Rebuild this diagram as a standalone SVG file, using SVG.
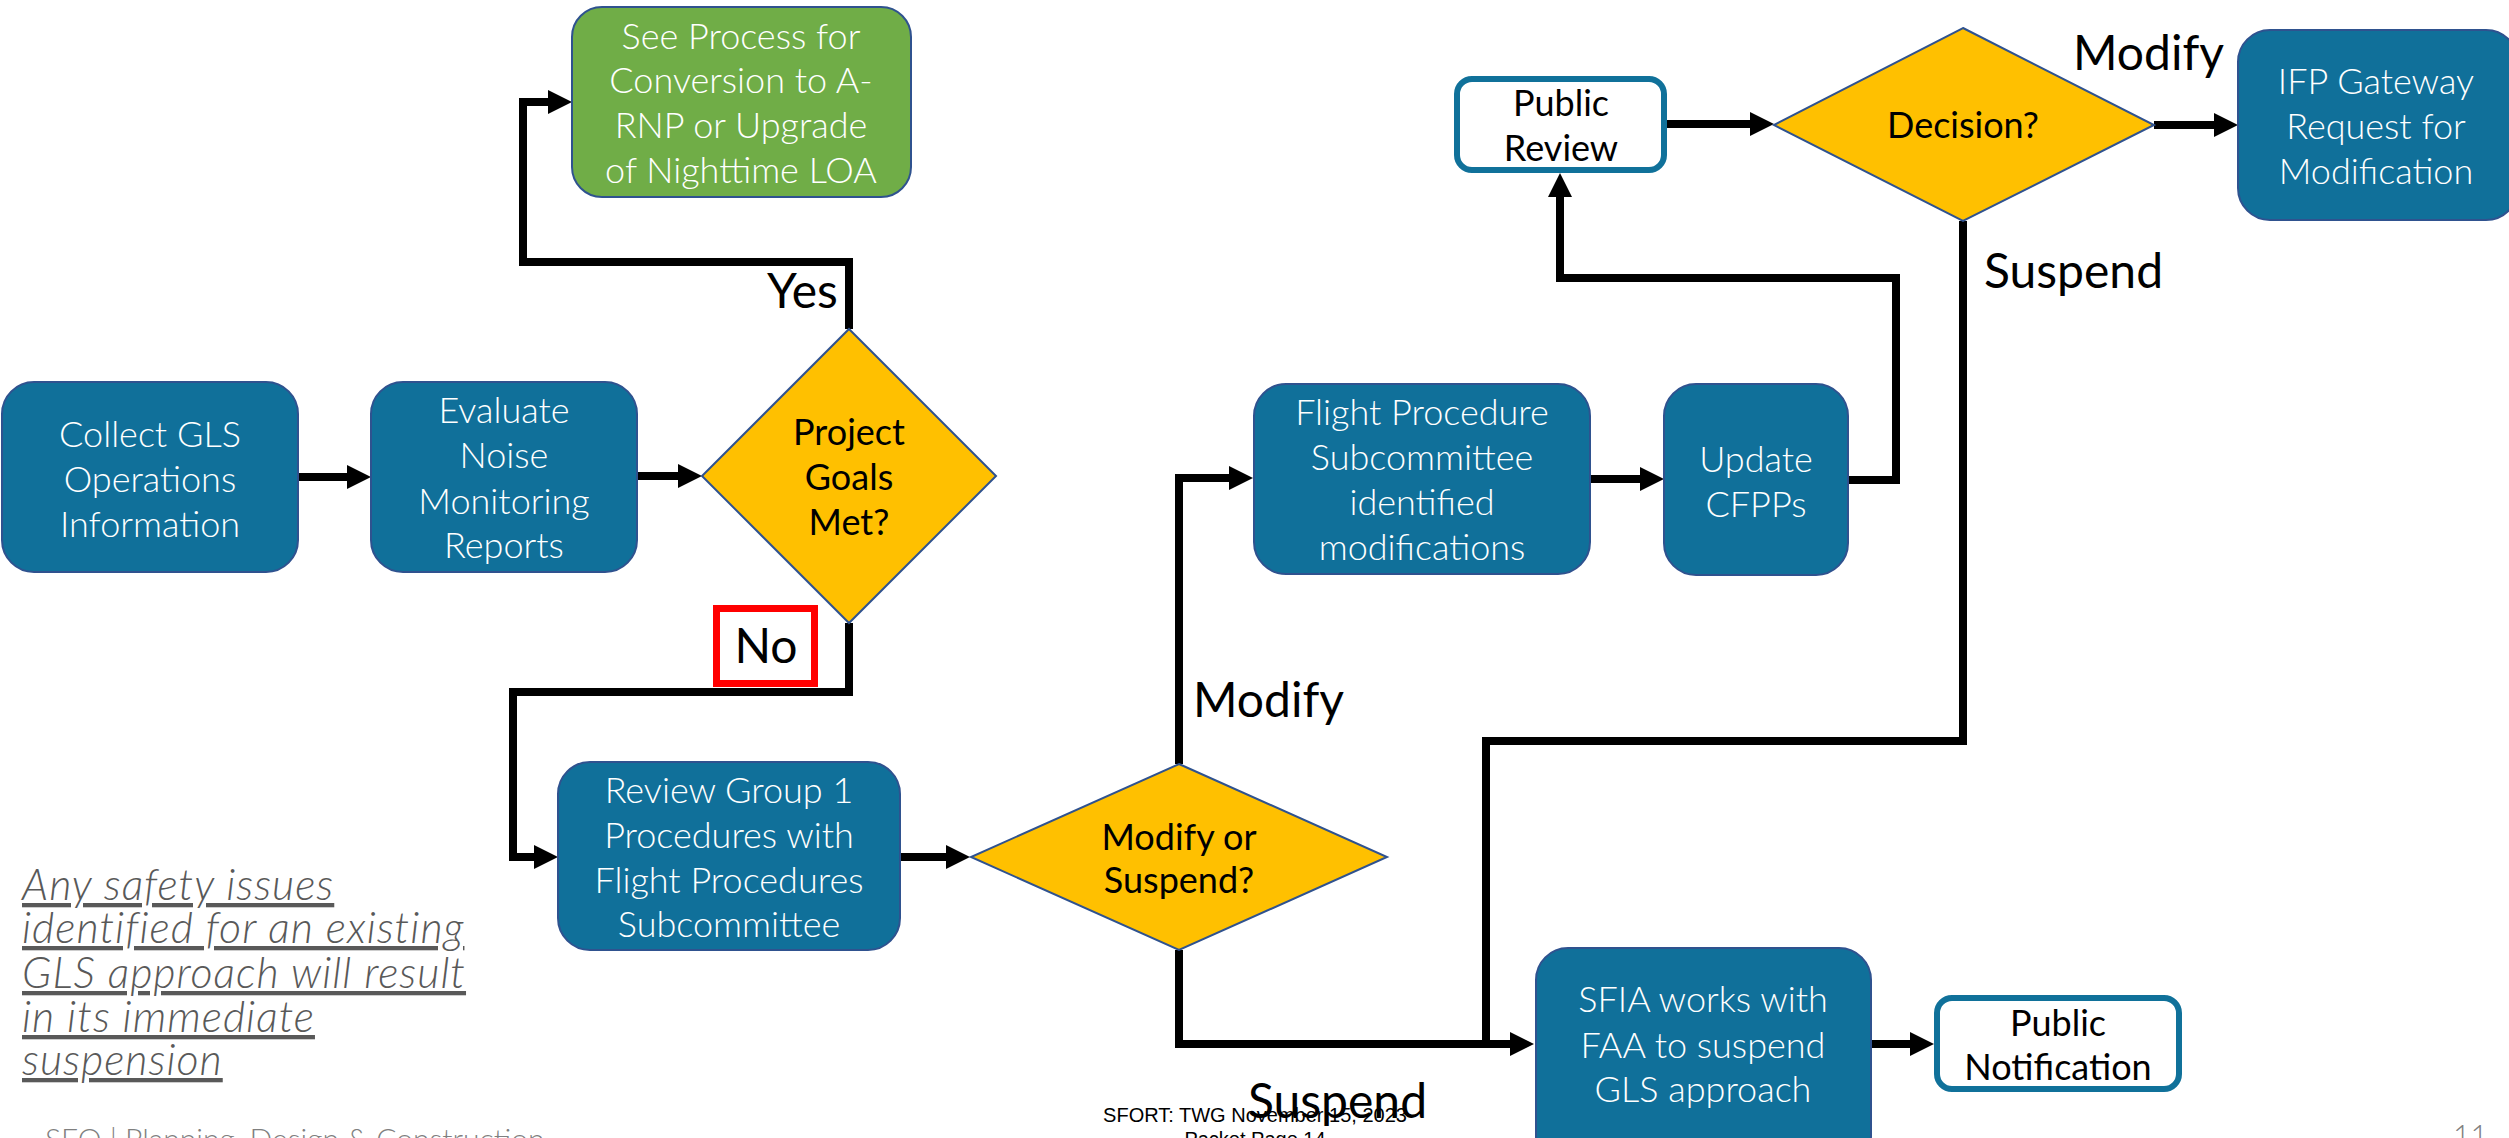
<svg xmlns="http://www.w3.org/2000/svg" width="2509" height="1138" viewBox="0 0 2509 1138">
<style>
.box{fill:#10709A;stroke:#2F528F;stroke-width:2}
.green{fill:#70AD47;stroke:#2F528F;stroke-width:2}
.dia{fill:#FFC000;stroke:#2F528F;stroke-width:2}
.wbox{fill:#FFFFFF;stroke:#10719A;stroke-width:6}
.wt{font-family:Lato,"Open Sans",sans-serif;font-weight:300;font-size:36px;fill:#FFFFFF;text-anchor:middle}
.bt{font-family:Lato,"Open Sans",sans-serif;font-weight:400;font-size:36px;fill:#000000;text-anchor:middle}
.lbl{font-family:Lato,"Open Sans",sans-serif;font-weight:400;font-size:48px;fill:#000000}
.conn{fill:none;stroke:#000000;stroke-width:8;stroke-linejoin:miter}
.note{font-family:Lato,"Open Sans",sans-serif;font-weight:300;font-style:italic;font-size:43px;letter-spacing:1px;fill:#595959;text-decoration:underline}
.foot{font-family:Lato,"Open Sans",sans-serif;font-weight:300;font-size:30px;fill:#7F7F7F}
.small{font-family:"Liberation Sans",Arial,sans-serif;font-size:20px;fill:#000000;text-anchor:middle}
</style>
<defs>
<marker id="arr" viewBox="0 0 3 3" markerWidth="3" markerHeight="3" refX="0.5" refY="1.5" orient="auto" markerUnits="strokeWidth">
<path d="M0,0 L3,1.5 L0,3 z" fill="#000000"/>
</marker>
</defs>
<rect width="2509" height="1138" fill="#FFFFFF"/>

<g id="connectors">
<path class="conn" d="M298,477 H351" marker-end="url(#arr)"/>
<path class="conn" d="M637,476 H682" marker-end="url(#arr)"/>
<path class="conn" d="M849,329 V262 H523 V102 H552" marker-end="url(#arr)"/>
<path class="conn" d="M849,623 V692 H513 V857 H538" marker-end="url(#arr)"/>
<path class="conn" d="M900,857 H950" marker-end="url(#arr)"/>
<path class="conn" d="M1179,764 V478 H1233" marker-end="url(#arr)"/>
<path class="conn" d="M1590,479 H1644" marker-end="url(#arr)"/>
<path class="conn" d="M1848,480 H1896 V278 H1560 V193" marker-end="url(#arr)"/>
<path class="conn" d="M1667,124 H1754" marker-end="url(#arr)"/>
<path class="conn" d="M2154,125 H2218" marker-end="url(#arr)"/>
<path class="conn" d="M1179,950 V1044 H1514" marker-end="url(#arr)"/>
<path class="conn" d="M1963,221 V741 H1486 V1044"/>
<path class="conn" d="M1871,1044 H1914" marker-end="url(#arr)"/>
</g>

<g id="collect">
<rect class="box" x="2" y="382" width="296" height="190" rx="32"/>
<text class="wt" x="150" y="447">Collect GLS</text>
<text class="wt" x="150" y="492">Operations</text>
<text class="wt" x="150" y="537">Information</text>
</g>

<g id="evaluate">
<rect class="box" x="371" y="382" width="266" height="190" rx="32"/>
<text class="wt" x="504" y="423">Evaluate</text>
<text class="wt" x="504" y="468">Noise</text>
<text class="wt" x="504" y="514">Monitoring</text>
<text class="wt" x="504" y="558">Reports</text>
</g>

<g id="goals">
<polygon class="dia" points="849,329 996,476 849,623 702,476"/>
<text class="bt" x="849" y="445">Project</text>
<text class="bt" x="849" y="490">Goals</text>
<text class="bt" x="849" y="535">Met?</text>
</g>

<g id="seeprocess">
<rect class="green" x="572" y="7" width="339" height="190" rx="30"/>
<text class="wt" x="741" y="49">See Process for</text>
<text class="wt" x="741" y="93">Conversion to A-</text>
<text class="wt" x="741" y="138">RNP or Upgrade</text>
<text class="wt" x="741" y="183">of Nighttime LOA</text>
</g>

<g id="review">
<rect class="box" x="558" y="762" width="342" height="188" rx="32"/>
<text class="wt" x="729" y="803">Review Group 1</text>
<text class="wt" x="729" y="848">Procedures with</text>
<text class="wt" x="729" y="893">Flight Procedures</text>
<text class="wt" x="729" y="937">Subcommittee</text>
</g>

<g id="modsus">
<polygon class="dia" points="1179,764 1387,857 1179,950 971,857"/>
<text class="bt" x="1179" y="850">Modify or</text>
<text class="bt" x="1179" y="893">Suspend?</text>
</g>

<g id="fpsub">
<rect class="box" x="1254" y="384" width="336" height="190" rx="32"/>
<text class="wt" x="1422" y="425">Flight Procedure</text>
<text class="wt" x="1422" y="470">Subcommittee</text>
<text class="wt" x="1422" y="515">identified</text>
<text class="wt" x="1422" y="560">modifications</text>
</g>

<g id="update">
<rect class="box" x="1664" y="384" width="184" height="191" rx="32"/>
<text class="wt" x="1756" y="472">Update</text>
<text class="wt" x="1756" y="517">CFPPs</text>
</g>

<g id="publicreview">
<rect class="wbox" x="1457" y="79" width="207" height="91" rx="15"/>
<text class="bt" x="1561" y="116">Public</text>
<text class="bt" x="1561" y="161">Review</text>
</g>

<g id="decision">
<polygon class="dia" points="1963,28 2154,125 1963,221 1774,125"/>
<text class="bt" x="1963" y="138">Decision?</text>
</g>

<g id="ifp">
<rect class="box" x="2238" y="30" width="280" height="190" rx="32"/>
<text class="wt" x="2376" y="94">IFP Gateway</text>
<text class="wt" x="2376" y="139">Request for</text>
<text class="wt" x="2376" y="184">Modification</text>
</g>

<g id="sfia">
<rect class="box" x="1536" y="948" width="335" height="220" rx="32"/>
<text class="wt" x="1703" y="1012">SFIA works with</text>
<text class="wt" x="1703" y="1058">FAA to suspend</text>
<text class="wt" x="1703" y="1102">GLS approach</text>
</g>

<g id="publicnotif">
<rect class="wbox" x="1937" y="998" width="242" height="91" rx="15"/>
<text class="bt" x="2058" y="1036">Public</text>
<text class="bt" x="2058" y="1080">Notification</text>
</g>

<g id="labels">
<text class="lbl" x="767" y="308">Yes</text>
<rect x="716.5" y="608.5" width="98" height="75" fill="#FFFFFF" stroke="#FF0000" stroke-width="7"/>
<text class="lbl" x="766" y="663" text-anchor="middle" font-size="46">No</text>
<text class="lbl" x="1193" y="717">Modify</text>
<text class="lbl" x="2224" y="70" text-anchor="end">Modify</text>
<text class="lbl" x="1984" y="288">Suspend</text>
<text class="lbl" x="1248" y="1118">Suspend</text>
</g>

<g id="note">
<text class="note" x="22" y="900">Any safety issues</text>
<text class="note" x="22" y="943">identified for an existing</text>
<text class="note" x="22" y="988">GLS approach will result</text>
<text class="note" x="22" y="1032">in its immediate</text>
<text class="note" x="22" y="1075">suspension</text>
</g>

<g id="footer">
<text class="foot" x="45" y="1150">SFO | Planning, Design &amp; Construction</text>
<text class="small" x="1255" y="1122">SFORT: TWG November 15, 2023</text>
<text class="small" x="1255" y="1146">Packet Page 14</text>
<text class="foot" x="2453" y="1146" font-size="24">11</text>
</g>
</svg>
